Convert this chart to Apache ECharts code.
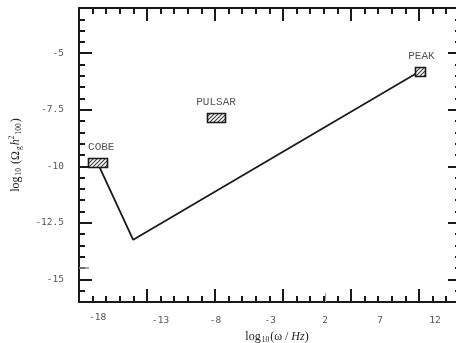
<!DOCTYPE html>
<html>
<head>
<meta charset="utf-8">
<script src="https://cdn.jsdelivr.net/npm/echarts@6/dist/echarts.min.js"></script>
<style>
html,body{margin:0;padding:0;background:#fff;}
#main{width:456px;height:343px;}
</style>
</head>
<body>
<div id="main"></div>
<script>
// tick labels (x labels sit where the scan puts them, -18 is off the linear scale)
var xLabelPos = [-18.75, -13, -8, -3, 2, 7, 12];
var xLabelText = ['-18', '-13', '-8', '-3', '2', '7', '12'];
var yLabelVals = [-15, -12.5, -10, -7.5, -5];

// the spectrum curve
var curveX = [-18.75, -15.5, 10.64];
var curveY = [-9.85, -13.25, -5.8];

// observational boxes
var boxNames = ['COBE', 'PULSAR', 'PEAK'];
var boxX = [-18.75, -7.95, 10.64];
var boxY = [-9.83, -7.84, -5.81];

var XMIN = -20.44, XMAX = 14.38;  // data axis
var TMAX = 28.09;                 // tick axis (minor tick units)

// hatch pattern for the boxes
var hatch = document.createElement('canvas');
hatch.width = 4; hatch.height = 4;
var ctx = hatch.getContext('2d');
ctx.fillStyle = '#fff';
ctx.fillRect(0, 0, 4, 4);
ctx.strokeStyle = '#3a3a3a';
ctx.lineWidth = 1.1;
ctx.beginPath();
ctx.moveTo(-1, 1); ctx.lineTo(1, -1);
ctx.moveTo(0, 4); ctx.lineTo(4, 0);
ctx.moveTo(3, 5); ctx.lineTo(5, 3);
ctx.stroke();

var chart = echarts.init(document.getElementById('main'));

var black = '#1a1a1a';
var lblStyle = { fontFamily: 'DejaVu Sans Mono', fontSize: 9.5, color: '#555' };

function tickAxis(pos, len, interval, showLine) {
    return {
        type: 'value', position: pos, min: 0, max: TMAX, interval: interval,
        axisLine: { show: !!showLine, onZero: false, lineStyle: { color: black, width: 2 } },
        axisTick: { show: true, inside: true, length: len, lineStyle: { color: black, width: 2 } },
        axisLabel: { show: false }, splitLine: { show: false }
    };
}

// box sizes in px and where each name sits relative to its box
var boxW = [19, 18, 10], boxH = 9;
var nameDx = [-9.5, 0, 1.5], nameDy = -15.5;

function renderBox(params, api) {
    var i = params.dataIndex;
    var c = api.coord([api.value(0), api.value(1)]);
    var w = boxW[i];
    return {
        type: 'group',
        children: [
            {
                type: 'rect',
                shape: { x: Math.round(c[0] - w / 2) + 0.5, y: Math.round(c[1] - boxH / 2) + 0.5, width: w, height: boxH },
                style: { fill: { image: hatch, repeat: 'repeat' }, stroke: black, lineWidth: 1.6 }
            },
            {
                type: 'text',
                style: {
                    text: boxNames[i], x: c[0] + nameDx[i], y: c[1] + nameDy,
                    align: i === 0 ? 'left' : 'center', verticalAlign: 'middle',
                    font: '11px "Liberation Mono"', fill: '#555'
                }
            }
        ]
    };
}

var boxData = [];
for (var i = 0; i < boxNames.length; i++) boxData.push([boxX[i], boxY[i]]);

var curve = [];
for (var j = 0; j < curveX.length; j++) curve.push([curveX[j], curveY[j]]);

var serif = { fontFamily: 'Liberation Serif', color: '#222' };
function rich() {
    return {
        n: Object.assign({ fontSize: 12, lineHeight: 15, verticalAlign: 'middle' }, serif),
        i: Object.assign({ fontSize: 12, fontStyle: 'italic', lineHeight: 15, verticalAlign: 'middle' }, serif),
        s: Object.assign({ fontSize: 7.5, lineHeight: 8, verticalAlign: 'bottom', padding: [0, 1, 0, 1] }, serif),
        p: Object.assign({ fontSize: 7.5, lineHeight: 8, verticalAlign: 'top' }, serif)
    };
}

option = {
    animation: false,
    backgroundColor: '#fff',
    grid: { left: 79, right: -5, top: 8, bottom: 41, containLabel: false, outerBoundsMode: 'none' },
    xAxis: [
        {
            type: 'value', position: 'bottom', min: XMIN, max: XMAX,
            name: '{n|log}{s|10}{n|(ω / }{i|Hz}{n|)}',
            nameLocation: 'middle', nameGap: 27,
            nameTextStyle: { padding: [0, 0, 0, 14], rich: rich() },
            axisLine: { show: true, onZero: false, lineStyle: { color: black, width: 2 } },
            axisTick: { show: true, inside: true, length: 9, customValues: [2], lineStyle: { color: '#999', width: 1 } },
            axisLabel: {
                customValues: xLabelPos, margin: 11,
                formatter: function (v) {
                    for (var k = 0; k < xLabelPos.length; k++) {
                        if (Math.abs(xLabelPos[k] - v) < 1e-6) return k === 0 ? '{a|' + xLabelText[k] + '}' : '{b|' + xLabelText[k] + '}';
                    }
                    return '';
                },
                rich: {
                    a: lblStyle,
                    b: Object.assign({ padding: [3, 0, 0, 0] }, lblStyle)
                }
            },
            splitLine: { show: false }
        },
        tickAxis('bottom', 6, 1),
        tickAxis('bottom', 13, 5),
        tickAxis('top', 6, 1, true),
        tickAxis('top', 13, 5)
    ],
    yAxis: [
        {
            type: 'value', position: 'left', min: -16, max: -3, interval: 0.5,
            name: '{n|log}{s|10}{n| (Ω}{s|g}{i|h}{p|2}{s|100}{n|)}',
            nameLocation: 'middle', nameGap: 56, nameRotate: 90,
            nameTextStyle: { rich: rich() },
            axisLine: { show: true, onZero: false, lineStyle: { color: black, width: 2 } },
            axisTick: { show: true, inside: true, length: 6, lineStyle: { color: black, width: 2 } },
            axisLabel: Object.assign({ customValues: yLabelVals, margin: 15 }, lblStyle),
            splitLine: { show: false }
        },
        {
            type: 'value', position: 'left', min: -16, max: -3,
            axisLine: { show: false, onZero: false },
            axisTick: { show: true, inside: true, length: 13, customValues: yLabelVals, lineStyle: { color: black, width: 2 } },
            axisLabel: { show: false }, splitLine: { show: false }
        },
        {
            type: 'value', position: 'left', min: -16, max: -3,
            axisLine: { show: false, onZero: false },
            axisTick: { show: true, inside: true, length: 10, customValues: [-14.5], lineStyle: { color: '#888', width: 1.5 } },
            axisLabel: { show: false }, splitLine: { show: false }
        },
        {
            type: 'value', position: 'right', min: -16, max: -3, interval: 0.5,
            axisLine: { show: false, onZero: false },
            axisTick: { show: true, inside: true, length: 6, lineStyle: { color: black, width: 2 } },
            axisLabel: { show: false }, splitLine: { show: false }
        },
        {
            type: 'value', position: 'right', min: -16, max: -3,
            axisLine: { show: false, onZero: false },
            axisTick: { show: true, inside: true, length: 13, customValues: yLabelVals, lineStyle: { color: black, width: 2 } },
            axisLabel: { show: false }, splitLine: { show: false }
        }
    ],
    series: [
        {
            type: 'line', xAxisIndex: 0, yAxisIndex: 0,
            data: curve, symbol: 'none', z: 2,
            lineStyle: { color: black, width: 1.8 }
        },
        {
            type: 'custom', xAxisIndex: 0, yAxisIndex: 0, z: 3,
            renderItem: renderBox,
            data: boxData
        }
    ]
};

chart.setOption(option);
</script>
</body>
</html>
